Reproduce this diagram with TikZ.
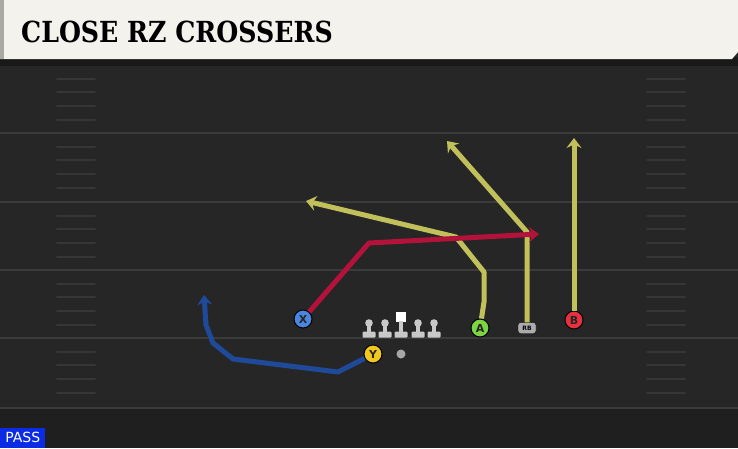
\documentclass[tikz,border=0pt]{standalone}
\usepackage{fontspec}
\setmainfont{DejaVu Sans}
\newfontfamily\titlefont{DejaVu Serif}
\usetikzlibrary{arrows.meta}

\definecolor{fieldbg}{HTML}{262626}
\definecolor{fielddark}{HTML}{1F1F1F}
\definecolor{yardline}{HTML}{3B3B3B}
\definecolor{hashcol}{HTML}{363636}
\definecolor{bannercol}{HTML}{F4F2EC}
\definecolor{bannergray}{HTML}{A9A9A6}
\definecolor{shadowcol}{HTML}{191919}
\definecolor{routeyellow}{HTML}{C2C05A}
\definecolor{routered}{HTML}{B3123A}
\definecolor{routeblue}{HTML}{1F4A9A}
\definecolor{xblue}{HTML}{4A86E0}
\definecolor{yyellow}{HTML}{F2C81E}
\definecolor{agreen}{HTML}{7CD444}
\definecolor{bred}{HTML}{E8303E}
\definecolor{passblue}{HTML}{0B2CE4}
\definecolor{olinecol}{HTML}{C9C9C9}

\tikzset{
  player/.style={circle, draw=black, line width=1pt, minimum size=18pt, inner sep=0pt,
    font=\bfseries\fontsize{11}{11}\selectfont, text=black!85},
  route/.style={line width=5pt, line join=round, -{Stealth[length=10pt,width=15pt,inset=3.5pt]}},
  hashmark/.style={hashcol, line width=2pt, line cap=round},
  lineman/.pic={
    \fill[olinecol] (0,-6) circle (3.8);
    \fill[olinecol] (-2.4,-6) rectangle (2.4,4);
    \fill[olinecol, rounded corners=1pt] (-6.5,2.5) rectangle (6.5,8.5);
  },
  center/.pic={
    \fill[white] (-5,-17) rectangle (5,-7);
    \fill[olinecol] (-2.4,-8) rectangle (2.4,4);
    \fill[olinecol, rounded corners=1pt] (-6.5,2.5) rectangle (6.5,8.5);
  }
}

\begin{document}
\begin{tikzpicture}[x=1pt, y=-1pt]
  \useasboundingbox (0,0) rectangle (738,448);

  % Field
  \fill[fieldbg] (0,0) rectangle (738,448);
  \fill[fielddark] (0,409) rectangle (738,448);

  % Yard lines
  \foreach \y in {65,133,202,270,338,408} {
    \draw[yardline, line width=2pt] (0,\y) -- (738,\y);
  }

  % Hash marks
  \foreach \y in {65,133,202,270,338} {
    \foreach \d in {14,27,41,55} {
      \draw[hashmark] (57,\y+\d) -- (95,\y+\d);
      \draw[hashmark] (647,\y+\d) -- (685,\y+\d);
    }
  }

  % Title banner
  \fill[shadowcol] (0,57) rectangle (738,66);
  \fill[bannercol] (0,0) -- (738,0) -- (738,52) -- (732,59) -- (0,59) -- cycle;
  \fill[bannergray] (0,0) rectangle (4,59);
  \node[anchor=west, inner sep=0pt] (title) at (21,32)
    {\scalebox{0.87}[1]{\titlefont\bfseries\fontsize{29}{29}\selectfont CLOSE RZ CROSSERS}};

  % Play tag
  \node[fill=passblue, text=white, anchor=south west, minimum width=45pt, minimum height=20pt,
    inner sep=0pt, font=\fontsize{14}{14}\selectfont] (tag) at (0,448) {PASS};

  % Offensive line and ball
  \pic at (369,329) {lineman};
  \pic at (385,329) {lineman};
  \pic at (401,329) {center};
  \pic at (418,329) {lineman};
  \pic at (434,329) {lineman};
  \node[circle, fill=gray!70, minimum size=9pt, inner sep=0pt] (ball) at (401,354) {};

  % Players
  \node[player, fill=xblue] (X) at (303,319) {X};
  \node[player, fill=yyellow] (Y) at (373,354) {Y};
  \node[player, fill=agreen] (A) at (480,328) {A};
  \node[player, fill=bred] (B) at (574,320) {B};
  \node[draw=black, fill=olinecol!85!black, rounded corners=2.5pt, minimum width=18pt, minimum height=11pt,
    inner sep=0pt, font=\bfseries\fontsize{6}{6}\selectfont] (RB) at (527,328) {RB};

  % Route ends
  \coordinate (yEnd) at (204,295);
  \coordinate (aEnd) at (306,201);
  \coordinate (rbEnd) at (447,141);
  \coordinate (bEnd) at (574,138);
  \coordinate (xEnd) at (539,234);

  % Routes
  \draw[route, routeblue] (Y) -- (338,372) -- (233,359) -- (213,343) -- (206,325) -- (yEnd);
  \draw[route, routeyellow] (A) -- (484,302) -- (484,272) -- (456,237) -- (aEnd);
  \draw[route, routeyellow] (RB) -- (527,232) -- (rbEnd);
  \draw[route, routeyellow] (B) -- (bEnd);
  \draw[route, routered] (X) -- (369,243) -- (xEnd);

\end{tikzpicture}
\end{document}
